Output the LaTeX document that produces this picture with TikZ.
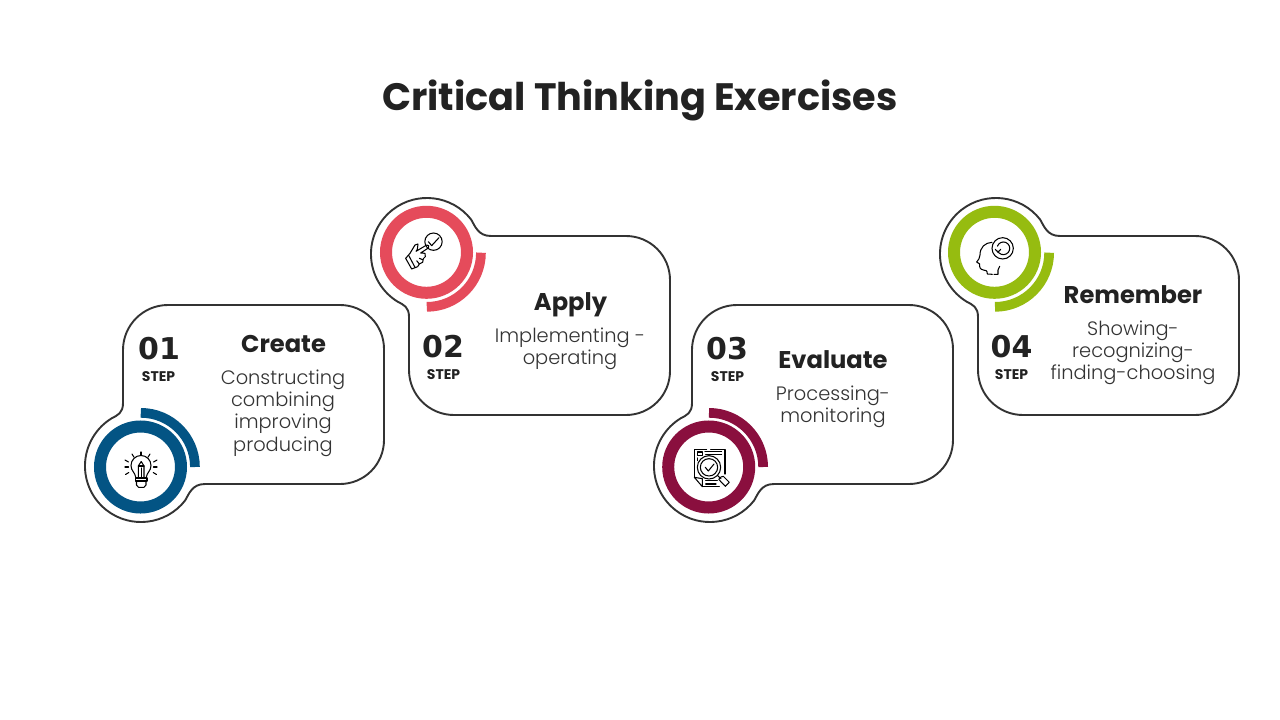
\documentclass[tikz,border=0pt]{standalone}
\usepackage{fontspec}
\setmainfont{Poppins}
\newfontfamily\lightf{Poppins Light}
\newfontfamily\numf{DejaVu Sans}
\definecolor{ink}{HTML}{222222}
\definecolor{edge}{HTML}{333333}
\definecolor{cblue}{HTML}{035484}
\definecolor{cred}{HTML}{E54B5B}
\definecolor{cwine}{HTML}{8A0F3E}
\definecolor{cgreen}{HTML}{96BC10}
\tikzset{
 titletext/.style={anchor=base,text=ink,font=\fontsize{38.2}{42}\selectfont\bfseries},
 numtext/.style={anchor=base,text=ink,font=\fontsize{30}{32}\numf\bfseries},
 steptext/.style={anchor=base,text=ink,font=\fontsize{14}{16}\selectfont\bfseries},
 headtext/.style={anchor=base,text=ink,font=\fontsize{24.2}{27}\selectfont\bfseries},
 desctext/.style={anchor=base,text=edge,font=\fontsize{19.4}{22}\lightf},
 outline/.style={draw=edge,line width=1.9pt,line join=round},
 icon/.style={draw=black,line width=1.05pt,line join=round,line cap=round,fill=none},
}
\newcommand{\cardpath}{
 \draw[outline] (45,0) -- (217,0) arc[start angle=-90,end angle=0,radius=44]
  -- (261,135) arc[start angle=0,end angle=90,radius=44]
  -- (82,179) .. controls (69,179) and (66,189) .. (62.1,195.5)
  arc[start angle=38,end angle=238,radius=56]
  .. controls (-5,110) and (0,108) .. (0,98)
  -- (0,45) arc[start angle=180,end angle=270,radius=45] -- cycle;
}
\begin{document}
\begin{tikzpicture}[x=1pt,y=-1pt]
\useasboundingbox (0,0) rectangle (1280,720);
\fill[white] (0,0) rectangle (1280,720);
\node[titletext] (title) at (640,110) {Critical Thinking Exercises};

% outlines
\begin{scope}[shift={(123,305)}]\cardpath\end{scope}
\begin{scope}[shift={(409,415)},yscale=-1]\cardpath\end{scope}
\begin{scope}[shift={(692,305)}]\cardpath\end{scope}
\begin{scope}[shift={(978,415)},yscale=-1]\cardpath\end{scope}

% rings
\draw[cblue,line width=12pt] (140.5,467) circle[radius=40.5];
\draw[cblue,line width=9.7pt] (140.8,467) ++(49.3+4.85,0) arc[start angle=0,end angle=-90,radius=54.15];
\draw[cred,line width=12pt] (426.5,252.3) circle[radius=40.5];
\draw[cred,line width=9.7pt] (426.8,252.7) ++(54.15,0) arc[start angle=0,end angle=90,radius=54.15];
\draw[cwine,line width=12pt] (708.7,467) circle[radius=40.5];
\draw[cwine,line width=9.7pt] (709,467) ++(54.15,0) arc[start angle=0,end angle=-90,radius=54.15];
\draw[cgreen,line width=12pt] (994.5,252.3) circle[radius=40.5];
\draw[cgreen,line width=9.7pt] (995,252.7) ++(54.15,0) arc[start angle=0,end angle=90,radius=54.15];

% icon 1: bulb with pencil
\begin{scope}[icon]
 \draw (136,478) .. controls (135,472) and (131,471) .. (131,465.5)
   arc[start angle=180,end angle=360,radius=10]
   .. controls (151,471) and (147,472) .. (146,478);
 \draw (135.5,478) -- (147,478) -- (147,481) -- (135.5,481) -- cycle;
 \draw (136.5,481) -- (146,481) -- (146,485) -- (144,487.3) -- (138.5,487.3) -- (136.5,485) -- cycle;
 \draw (138.3,478) -- (138.3,466) -- (141.2,461.5) -- (144,466) -- (144,478);
 \draw (141.2,468) -- (141.2,478);
 \draw (138.3,466) -- (144,466);
 \draw (141,452) -- (141,455.5);
 \draw (150,454) -- (148,457.2);
 \draw (132,454) -- (134,457.2);
 \draw (157,460) -- (153.5,462);
 \draw (125,460) -- (128.5,462);
 \draw (157,467) -- (153.5,467);
 \draw (125,467) -- (128.5,467);
 \draw (156.5,474.5) -- (153.2,472.5);
 \draw (125.5,474.5) -- (128.8,472.5);
\end{scope}

% icon 2: hand with check
\begin{scope}[icon,shift={(360,190)},x=0.3333pt,y=-0.3333pt]
 \draw (220.5,155) circle[radius=26];
 \draw (205,155) -- (215,167) -- (237,143);
 \draw (137,205) -- (150,190) -- (165,165) -- (174,162) -- (172,178) -- (168,184) -- (200,165) .. controls (206,163) and (209,170) .. (205,174) -- (182,189) -- (195,190) -- (196,200) -- (190,206) -- (188,217) -- (178,222) -- (173,230) -- (155,237) -- cycle;
 \draw (146,196) -- (165,232);
 \draw (178,222) -- (170,212);
 \draw (188,209) -- (178,205);
\end{scope}

% icon 3: document with magnifier
\begin{scope}[icon,shift={(640,390)},x=0.3333pt,y=-0.3333pt]
 \draw (212,178) -- (255,178) -- (255,252);
 \draw (200,178) -- (163,178) -- (163,262);
 \draw (163,262) -- (187,290) -- (187,266) -- cycle;
 \draw (187,290) -- (238,290);
 \draw (172,186) rectangle (187,196);
 \draw (195,184) -- (245,184);
 \draw (197,193) -- (245,193);
 \draw (172,204) -- (172,212);
 \draw (197,272) -- (232,272);
 \draw (197,282) -- (228,282);
 \draw (207,232) circle[radius=35];
 \draw (207,232) circle[radius=26];
 \draw (196,232) -- (205,243) -- (222,222);
 \draw (233,257) -- (243,266);
 \draw (243,261) -- (236,268) -- (256,289) -- (268,277) -- (250,259) -- cycle;
\end{scope}

% icon 4: head with cycle arrow
\begin{scope}[icon,shift={(930,190)},x=0.3333pt,y=-0.3333pt]
 \draw (218,175) circle[radius=32];
 \draw (203,183) arc[start angle=155,end angle=-160,radius=19];
 \draw (196,178) -- (204,187) -- (212,178);
 \draw (186,157) .. controls (165,158) and (150,172) .. (150,195)
   .. controls (150,204) and (145,210) .. (140,216)
   .. controls (143,219) and (147,220) .. (149,222)
   .. controls (148,232) and (150,238) .. (160,240)
   .. controls (168,240) and (172,242) .. (172,252) -- (187,253);
 \draw (192,253) -- (204,253) -- (204,240) .. controls (204,234) and (206,232) .. (209,229);
\end{scope}

% step numbers
\node[numtext] (n1) at (159,359.5) {01};
\node[steptext] (s1) at (158.5,381) {STEP};
\node[numtext] (n2) at (443,357.5) {02};
\node[steptext] (s2) at (443.5,379) {STEP};
\node[numtext] (n3) at (727,359.5) {03};
\node[steptext] (s3) at (727.5,381) {STEP};
\node[numtext] (n4) at (1011.5,357.5) {04};
\node[steptext] (s4) at (1011.5,379) {STEP};

% card 1
\node[headtext] (h1) at (283.5,352) {Create};
\node[desctext] (d1a) at (283,384) {Constructing};
\node[desctext] (d1b) at (283,406) {combining};
\node[desctext] (d1c) at (283,428) {improving};
\node[desctext] (d1d) at (283,451) {producing};
% card 2
\node[headtext] (h2) at (570.5,310) {Apply};
\node[desctext] (d2a) at (570,342) {Implementing -};
\node[desctext] (d2b) at (570,364) {operating};
% card 3
\node[headtext] (h3) at (833,368) {Evaluate};
\node[desctext] (d3a) at (833,400) {Processing-};
\node[desctext] (d3b) at (833,422) {monitoring};
% card 4
\node[headtext] (h4) at (1133,303) {Remember};
\node[desctext] (d4a) at (1133,335) {Showing-};
\node[desctext] (d4b) at (1133,357) {recognizing-};
\node[desctext] (d4c) at (1133,379) {finding-choosing};
\end{tikzpicture}
\end{document}
